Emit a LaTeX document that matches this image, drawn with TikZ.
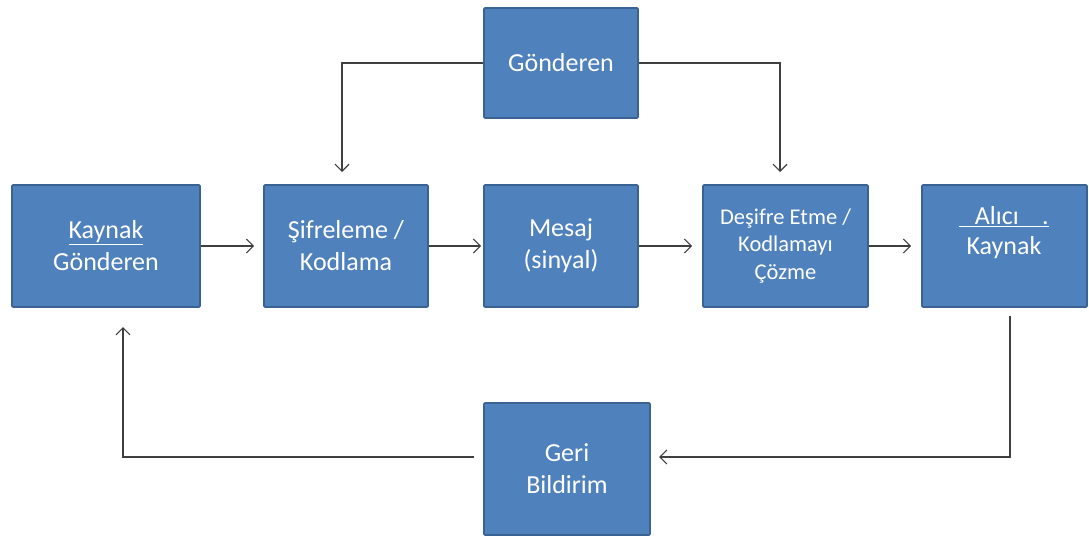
\documentclass[tikz,border=0pt]{standalone}
\usepackage{fontspec}
\setmainfont{Carlito}
\usetikzlibrary{arrows.meta}
\definecolor{boxfill}{HTML}{4F81BD}
\definecolor{boxline}{HTML}{3A6394}
\definecolor{conn}{HTML}{3F3F3F}
\begin{document}
\begin{tikzpicture}[x=1pt,y=-1pt,
  blk/.style={rectangle,draw=boxline,line width=1.6pt,fill=boxfill,rounded corners=1pt,
    text=white,align=center,font=\fontsize{26}{32}\selectfont,inner sep=0pt},
  smallblk/.style={blk,font=\fontsize{22.5}{27.5}\selectfont},
  txt/.style={text=white,align=center,font=\fontsize{26}{30}\selectfont,inner sep=0pt},
  arr/.style={draw=conn,line width=1.2pt,-{Straight Barb[length=7pt,width=14pt,line width=1.2pt]}},
  ln/.style={draw=conn,line width=1.2pt}]
\useasboundingbox (0,0) rectangle (1089,543);
\node[blk,minimum width=154pt,minimum height=110pt] (gon) at (561,63) {Gönderen};
\node[blk,minimum width=188pt,minimum height=122pt] (kay) at (106,246) {\underline{Kaynak}\\Gönderen};
\node[blk,minimum width=164pt,minimum height=122pt] (sif) at (346,246) {Şifreleme /\\Kodlama};
\node[blk,minimum width=154pt,minimum height=122pt] (mes) at (561,246) {Mesaj\\(sinyal)};
\node[smallblk,minimum width=165pt,minimum height=122pt] (des) at (785.5,246) {Deşifre Etme /\\Kodlamayı\\Çözme};
\node[blk,minimum width=165pt,minimum height=122pt] (ali) at (1004.5,246) {};
\node[txt] (alitext) at (1004,233) {\underline{\hspace{0.6em}Alıcı\hspace{0.9em}.}\\Kaynak};
\node[blk,minimum width=166pt,minimum height=132pt] (geri) at (567,469) {Geri\\Bildirim};
% top connectors
\coordinate (sifin) at (342,172);
\coordinate (desin) at (780,172);
\draw[arr] (gon.west) -| (sifin);
\draw[arr] (gon.east) -| (desin);
% main chain
\draw[arr] (kay.east) -- ([xshift=-9pt]sif.west);
\draw[arr] (sif.east) -- ([xshift=-2pt]mes.west);
\draw[arr] (mes.east) -- ([xshift=-10pt]des.west);
\draw[arr] (des.east) -- ([xshift=-10pt]ali.west);
% feedback
\coordinate (alout) at (1010,316);
\coordinate (gerin) at (659,457);
\coordinate (gerout) at (474,457);
\coordinate (kayin) at (123,327);
\draw[arr] (alout) |- (gerin);
\draw[arr] (gerout) -| (kayin);
\end{tikzpicture}
\end{document}
